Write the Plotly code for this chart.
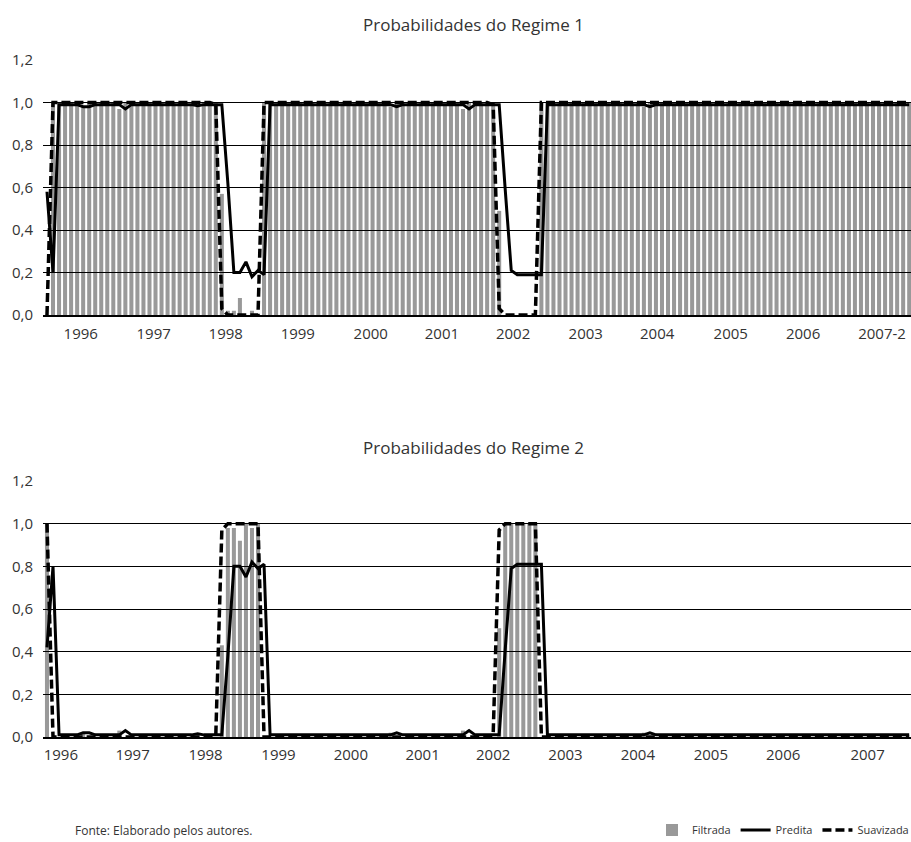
import plotly.graph_objects as go

# ---------------- data ----------------
months = [f"{y}-{m:02d}" for y in range(1996, 2008) for m in range(1, 13)]

# Regime 1
filt_r1 = [
    0.00, 1.00, 1.00, 1.00, 1.00, 0.99, 0.98, 1.00, 1.00, 1.00, 1.00, 1.00,  # 1996
    0.97, 1.00, 1.00, 1.00, 1.00, 1.00, 1.00, 1.00, 1.00, 1.00, 1.00, 1.00,  # 1997
    0.99, 1.00, 1.00, 1.00, 1.00, 0.57, 0.02, 0.02, 0.08, 0.00, 0.02, 0.00,  # 1998
    1.00, 1.00, 1.00, 1.00, 1.00, 1.00, 1.00, 1.00, 1.00, 1.00, 1.00, 1.00,  # 1999
    1.00, 1.00, 1.00, 1.00, 1.00, 1.00, 1.00, 1.00, 1.00, 0.98, 1.00, 1.00,  # 2000
    1.00, 1.00, 1.00, 1.00, 1.00, 1.00, 1.00, 1.00, 1.00, 0.97, 1.00, 1.00,  # 2001
    1.00, 1.00, 1.00, 0.49, 0.00, 0.00, 0.00, 0.00, 0.00, 0.00, 1.00, 1.00,  # 2002
    1.00, 1.00, 1.00, 1.00, 1.00, 1.00, 1.00, 1.00, 1.00, 1.00, 1.00, 1.00,  # 2003
    1.00, 1.00, 1.00, 0.98, 1.00, 1.00, 1.00, 1.00, 1.00, 1.00, 1.00, 1.00,  # 2004
    1.00, 1.00, 1.00, 1.00, 1.00, 1.00, 1.00, 1.00, 1.00, 1.00, 1.00, 1.00,  # 2005
    1.00, 1.00, 1.00, 1.00, 1.00, 1.00, 1.00, 1.00, 1.00, 1.00, 1.00, 1.00,  # 2006
    1.00, 1.00, 1.00, 1.00, 1.00, 1.00, 1.00, 1.00, 1.00, 1.00, 1.00, 1.00,  # 2007
]
pred_r1 = [
    0.58, 0.20, 0.99, 0.99, 0.99, 0.99, 0.98, 0.98, 0.99, 0.99, 0.99, 0.99,  # 1996
    0.99, 0.97, 0.99, 0.99, 0.99, 0.99, 0.99, 0.99, 0.99, 0.99, 0.99, 0.99,  # 1997
    0.99, 0.985, 0.99, 0.99, 0.99, 0.99, 0.62, 0.20, 0.20, 0.25, 0.18, 0.21,  # 1998
    0.19, 0.99, 0.99, 0.99, 0.99, 0.99, 0.99, 0.99, 0.99, 0.99, 0.99, 0.99,  # 1999
    0.99, 0.99, 0.99, 0.99, 0.99, 0.99, 0.99, 0.99, 0.99, 0.99, 0.98, 0.99,  # 2000
    0.99, 0.99, 0.99, 0.99, 0.99, 0.99, 0.99, 0.99, 0.99, 0.99, 0.97, 0.99,  # 2001
    0.99, 0.99, 0.99, 0.99, 0.59, 0.21, 0.19, 0.19, 0.19, 0.19, 0.19, 0.99,  # 2002
    0.99, 0.99, 0.99, 0.99, 0.99, 0.99, 0.99, 0.99, 0.99, 0.99, 0.99, 0.99,  # 2003
    0.99, 0.99, 0.99, 0.99, 0.98, 0.99, 0.99, 0.99, 0.99, 0.99, 0.99, 0.99,  # 2004
    0.99, 0.99, 0.99, 0.99, 0.99, 0.99, 0.99, 0.99, 0.99, 0.99, 0.99, 0.99,  # 2005
    0.99, 0.99, 0.99, 0.99, 0.99, 0.99, 0.99, 0.99, 0.99, 0.99, 0.99, 0.99,  # 2006
    0.99, 0.99, 0.99, 0.99, 0.99, 0.99, 0.99, 0.99, 0.99, 0.99, 0.99, 0.99,  # 2007
]
smooth_r1 = [
    0.00, 1.00, 1.00, 1.00, 1.00, 1.00, 1.00, 1.00, 1.00, 1.00, 1.00, 1.00,  # 1996
    1.00, 1.00, 1.00, 1.00, 1.00, 1.00, 1.00, 1.00, 1.00, 1.00, 1.00, 1.00,  # 1997
    1.00, 1.00, 1.00, 1.00, 0.99, 0.03, 0.00, 0.00, 0.00, 0.00, 0.00, 0.00,  # 1998
    1.00, 1.00, 1.00, 1.00, 1.00, 1.00, 1.00, 1.00, 1.00, 1.00, 1.00, 1.00,  # 1999
    1.00, 1.00, 1.00, 1.00, 1.00, 1.00, 1.00, 1.00, 1.00, 1.00, 1.00, 1.00,  # 2000
    1.00, 1.00, 1.00, 1.00, 1.00, 1.00, 1.00, 1.00, 1.00, 1.00, 1.00, 1.00,  # 2001
    1.00, 1.00, 0.99, 0.03, 0.00, 0.00, 0.00, 0.00, 0.00, 0.00, 1.00, 1.00,  # 2002
    1.00, 1.00, 1.00, 1.00, 1.00, 1.00, 1.00, 1.00, 1.00, 1.00, 1.00, 1.00,  # 2003
    1.00, 1.00, 1.00, 1.00, 1.00, 1.00, 1.00, 1.00, 1.00, 1.00, 1.00, 1.00,  # 2004
    1.00, 1.00, 1.00, 1.00, 1.00, 1.00, 1.00, 1.00, 1.00, 1.00, 1.00, 1.00,  # 2005
    1.00, 1.00, 1.00, 1.00, 1.00, 1.00, 1.00, 1.00, 1.00, 1.00, 1.00, 1.00,  # 2006
    1.00, 1.00, 1.00, 1.00, 1.00, 1.00, 1.00, 1.00, 1.00, 1.00, 1.00, 1.00,  # 2007
]

# Regime 2
filt_r2 = [
    1.00, 0.00, 0.00, 0.00, 0.00, 0.01, 0.02, 0.00, 0.00, 0.00, 0.00, 0.00,  # 1996
    0.03, 0.00, 0.00, 0.00, 0.00, 0.00, 0.00, 0.00, 0.00, 0.00, 0.00, 0.00,  # 1997
    0.01, 0.00, 0.00, 0.00, 0.00, 0.43, 0.98, 0.98, 0.92, 1.00, 0.98, 1.00,  # 1998
    0.00, 0.00, 0.00, 0.00, 0.00, 0.00, 0.00, 0.00, 0.00, 0.00, 0.00, 0.00,  # 1999
    0.00, 0.00, 0.00, 0.00, 0.00, 0.00, 0.00, 0.00, 0.00, 0.02, 0.00, 0.00,  # 2000
    0.00, 0.00, 0.00, 0.00, 0.00, 0.00, 0.00, 0.00, 0.00, 0.03, 0.00, 0.00,  # 2001
    0.00, 0.00, 0.00, 0.51, 1.00, 1.00, 1.00, 1.00, 1.00, 1.00, 0.00, 0.00,  # 2002
    0.00, 0.00, 0.00, 0.00, 0.00, 0.00, 0.00, 0.00, 0.00, 0.00, 0.00, 0.00,  # 2003
    0.00, 0.00, 0.00, 0.02, 0.00, 0.00, 0.00, 0.00, 0.00, 0.00, 0.00, 0.00,  # 2004
    0.00, 0.00, 0.00, 0.00, 0.00, 0.00, 0.00, 0.00, 0.00, 0.00, 0.00, 0.00,  # 2005
    0.00, 0.00, 0.00, 0.00, 0.00, 0.00, 0.00, 0.00, 0.00, 0.00, 0.00, 0.00,  # 2006
    0.00, 0.00, 0.00, 0.00, 0.00, 0.00, 0.00, 0.00, 0.00, 0.00, 0.00, 0.00,  # 2007
]
pred_r2 = [
    0.42, 0.80, 0.01, 0.01, 0.01, 0.01, 0.02, 0.02, 0.01, 0.01, 0.01, 0.01,  # 1996
    0.01, 0.03, 0.01, 0.01, 0.01, 0.01, 0.01, 0.01, 0.01, 0.01, 0.01, 0.01,  # 1997
    0.01, 0.015, 0.01, 0.01, 0.01, 0.01, 0.38, 0.80, 0.80, 0.75, 0.82, 0.79,  # 1998
    0.81, 0.01, 0.01, 0.01, 0.01, 0.01, 0.01, 0.01, 0.01, 0.01, 0.01, 0.01,  # 1999
    0.01, 0.01, 0.01, 0.01, 0.01, 0.01, 0.01, 0.01, 0.01, 0.01, 0.02, 0.01,  # 2000
    0.01, 0.01, 0.01, 0.01, 0.01, 0.01, 0.01, 0.01, 0.01, 0.01, 0.03, 0.01,  # 2001
    0.01, 0.01, 0.01, 0.01, 0.41, 0.79, 0.81, 0.81, 0.81, 0.81, 0.81, 0.01,  # 2002
    0.01, 0.01, 0.01, 0.01, 0.01, 0.01, 0.01, 0.01, 0.01, 0.01, 0.01, 0.01,  # 2003
    0.01, 0.01, 0.01, 0.01, 0.02, 0.01, 0.01, 0.01, 0.01, 0.01, 0.01, 0.01,  # 2004
    0.01, 0.01, 0.01, 0.01, 0.01, 0.01, 0.01, 0.01, 0.01, 0.01, 0.01, 0.01,  # 2005
    0.01, 0.01, 0.01, 0.01, 0.01, 0.01, 0.01, 0.01, 0.01, 0.01, 0.01, 0.01,  # 2006
    0.01, 0.01, 0.01, 0.01, 0.01, 0.01, 0.01, 0.01, 0.01, 0.01, 0.01, 0.01,  # 2007
]
smooth_r2 = [
    1.00, 0.00, 0.00, 0.00, 0.00, 0.00, 0.00, 0.00, 0.00, 0.00, 0.00, 0.00,  # 1996
    0.00, 0.00, 0.00, 0.00, 0.00, 0.00, 0.00, 0.00, 0.00, 0.00, 0.00, 0.00,  # 1997
    0.00, 0.00, 0.00, 0.00, 0.01, 0.97, 1.00, 1.00, 1.00, 1.00, 1.00, 1.00,  # 1998
    0.00, 0.00, 0.00, 0.00, 0.00, 0.00, 0.00, 0.00, 0.00, 0.00, 0.00, 0.00,  # 1999
    0.00, 0.00, 0.00, 0.00, 0.00, 0.00, 0.00, 0.00, 0.00, 0.00, 0.00, 0.00,  # 2000
    0.00, 0.00, 0.00, 0.00, 0.00, 0.00, 0.00, 0.00, 0.00, 0.00, 0.00, 0.00,  # 2001
    0.00, 0.00, 0.01, 0.97, 1.00, 1.00, 1.00, 1.00, 1.00, 1.00, 0.00, 0.00,  # 2002
    0.00, 0.00, 0.00, 0.00, 0.00, 0.00, 0.00, 0.00, 0.00, 0.00, 0.00, 0.00,  # 2003
    0.00, 0.00, 0.00, 0.00, 0.00, 0.00, 0.00, 0.00, 0.00, 0.00, 0.00, 0.00,  # 2004
    0.00, 0.00, 0.00, 0.00, 0.00, 0.00, 0.00, 0.00, 0.00, 0.00, 0.00, 0.00,  # 2005
    0.00, 0.00, 0.00, 0.00, 0.00, 0.00, 0.00, 0.00, 0.00, 0.00, 0.00, 0.00,  # 2006
    0.00, 0.00, 0.00, 0.00, 0.00, 0.00, 0.00, 0.00, 0.00, 0.00, 0.00, 0.00,  # 2007
]

# axis tick labels (positions in month-index units)
top_tick_text = ["1996", "1997", "1998", "1999", "2000", "2001", "2002",
                 "2003", "2004", "2005", "2006", "2007-2"]
top_tick_at = [5.6, 17.7, 29.65, 41.6, 53.7, 65.5, 77.3, 89.35, 101.2, 113.4, 125.4, 138.5]
bot_tick_text = ["1996", "1997", "1998", "1999", "2000", "2001", "2002",
                 "2003", "2004", "2005", "2006", "2007"]
bot_tick_at = [2.3, 14.2, 26.3, 38.4, 50.4, 62.3, 74.0, 86.0, 98.0, 110.1, 122.1, 136.1]
y_ticks = [0.0, 0.2, 0.4, 0.6, 0.8, 1.0, 1.2]

titles = ["Probabilidades do Regime 1", "Probabilidades do Regime 2"]
series_names = ["Filtrada", "Predita", "Suavizada"]
source_note = "Fonte: Elaborado pelos autores."

# ---------------- figure ----------------
x = list(range(len(months)))
FONT = "Open Sans, Noto Sans, sans-serif"
TXT = "#333333"
BAR = "rgba(0,0,0,0.40)"

fig = go.Figure()
panels = [
    (filt_r1, pred_r1, smooth_r1, "x", "y", True),
    (filt_r2, pred_r2, smooth_r2, "x2", "y2", False),
]
for filt, pred, smooth, xa, ya, show in panels:
    fig.add_trace(go.Bar(x=x, y=filt, name=series_names[0], xaxis=xa, yaxis=ya,
                         marker=dict(color=BAR, line=dict(width=0)),
                         legendgroup="f", showlegend=show))
    fig.add_trace(go.Scatter(x=x, y=pred, name=series_names[1], xaxis=xa, yaxis=ya,
                             mode="lines", line=dict(color="black", width=3),
                             legendgroup="p", showlegend=show))
    fig.add_trace(go.Scatter(x=x, y=smooth, name=series_names[2], xaxis=xa, yaxis=ya,
                             mode="lines", line=dict(color="black", width=3.5, dash="9px,4px"),
                             legendgroup="s", showlegend=show))

W, H = 911, 842
ML = 43
xr = [-0.66, 143.3]

def yaxis_cfg(domain):
    return dict(domain=domain, range=[0, 1.2], tickvals=y_ticks, tickformat=".1f",
                showgrid=True, gridcolor="black", gridwidth=1, zeroline=False,
                showline=False, ticks="", ticklabelstandoff=9,
                tickfont=dict(family=FONT, size=15, color=TXT), fixedrange=True)

def xaxis_cfg(anchor, vals, text, standoff):
    return dict(anchor=anchor, range=xr, tickmode="array", tickvals=vals, ticktext=text,
                showgrid=False, zeroline=False, showline=True, linecolor="black",
                linewidth=2, ticks="", ticklabelstandoff=standoff,
                tickfont=dict(family=FONT, size=15, color=TXT), fixedrange=True)

fig.update_layout(
    width=W, height=H,
    margin=dict(l=ML, r=0, t=0, b=0, autoexpand=False),
    paper_bgcolor="white", plot_bgcolor="white",
    separators=",.",
    barmode="overlay", bargap=0.33,
    font=dict(family=FONT, color=TXT),
    xaxis=xaxis_cfg("y", top_tick_at, top_tick_text, 4),
    yaxis=yaxis_cfg([(H - 315) / H, (H - 60) / H]),
    xaxis2=xaxis_cfg("y2", bot_tick_at, bot_tick_text, 3),
    yaxis2=yaxis_cfg([(H - 737) / H, (H - 481) / H]),
    showlegend=True,
    legend=dict(orientation="h", x=(652 - ML) / (W - ML), xanchor="left",
                y=(H - 830) / H, yanchor="middle", bgcolor="rgba(0,0,0,0)",
                font=dict(family=FONT, size=11, color=TXT), itemwidth=30,
                traceorder="normal"),
    annotations=[
        dict(text=titles[0], xref="paper", yref="paper", x=(473 - ML) / (W - ML),
             y=(H - 25) / H, xanchor="center", yanchor="middle", showarrow=False,
             font=dict(family=FONT, size=17, color=TXT)),
        dict(text=titles[1], xref="paper", yref="paper", x=(473 - ML) / (W - ML),
             y=(H - 447) / H, xanchor="center", yanchor="middle", showarrow=False,
             font=dict(family=FONT, size=17, color=TXT)),
        dict(text=source_note, xref="paper", yref="paper", x=(73 - ML) / (W - ML),
             y=(H - 830) / H, xanchor="left", yanchor="middle", showarrow=False,
             font=dict(family=FONT, size=12, color=TXT)),
    ],
)

fig.write_html("out.html",
               config={"displayModeBar": False, "staticPlot": True},
               post_script="document.body.style.margin='0';document.body.style.overflow='hidden';")
